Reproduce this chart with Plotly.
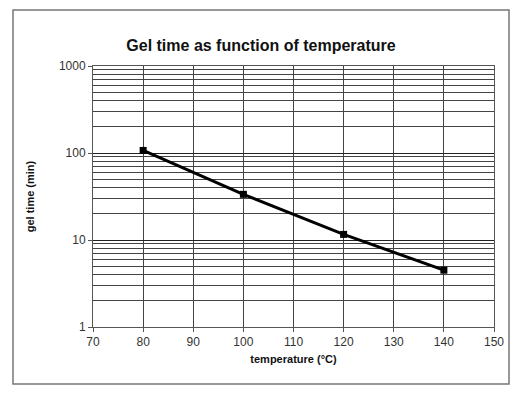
import plotly.graph_objects as go

temperature = [80, 100, 120, 140]
gel_time = [107, 33.5, 11.6, 4.5]
y_ticks = [1, 10, 100, 1000]
x_ticks = [70, 80, 90, 100, 110, 120, 130, 140, 150]

minor_vals = [m * 10 ** d for d in range(3) for m in range(2, 10)]

fig = go.Figure()
fig.add_trace(go.Scatter(
    x=temperature, y=gel_time, mode="lines+markers",
    line=dict(color="black", width=3),
    marker=dict(symbol="square", size=7, color="black"),
    showlegend=False,
))

font = "Liberation Sans, Arial, sans-serif"
fig.update_layout(
    width=522, height=393,
    margin=dict(l=93, r=28, t=66, b=66),
    paper_bgcolor="white", plot_bgcolor="white",
    font=dict(family=font, color="#333", size=12),
    title=dict(text="<b>Gel time as function of temperature</b>", x=0.5, xanchor="center",
               y=1 - 45 / 393, yanchor="middle", font=dict(size=16, color="#111")),
    xaxis=dict(range=[70, 150], tickvals=x_ticks, showgrid=True, gridcolor="#444", gridwidth=1,
               showline=True, linecolor="#555", linewidth=1, mirror=True, ticks="outside",
               ticklen=4, tickcolor="#555", zeroline=False,
               title=dict(text="<b>temperature (°C)</b>", font=dict(size=11, color="#111"), standoff=6)),
    yaxis=dict(type="log", range=[0, 3], tickvals=y_ticks, ticktext=[str(v) for v in y_ticks],
               showgrid=True, gridcolor="#222", gridwidth=1,
               minor=dict(tickvals=minor_vals, showgrid=True, gridcolor="#444", gridwidth=1, ticks=""),
               showline=True, linecolor="#555", linewidth=1, mirror=True, ticks="outside",
               ticklen=4, tickcolor="#555", zeroline=False,
               title=dict(text="<b>gel time (min)</b>", font=dict(size=11, color="#111"), standoff=22)),
    shapes=[dict(type="rect", xref="paper", yref="paper",
                 x0=(13 - 93) / 401, x1=(509 - 93) / 401,
                 y0=(327 - 384) / 261, y1=(327 - 10) / 261,
                 line=dict(color="#777", width=1.5))],
)

fig.write_html("out.html", config={"displayModeBar": False},
               post_script="document.body.style.margin='0';")
